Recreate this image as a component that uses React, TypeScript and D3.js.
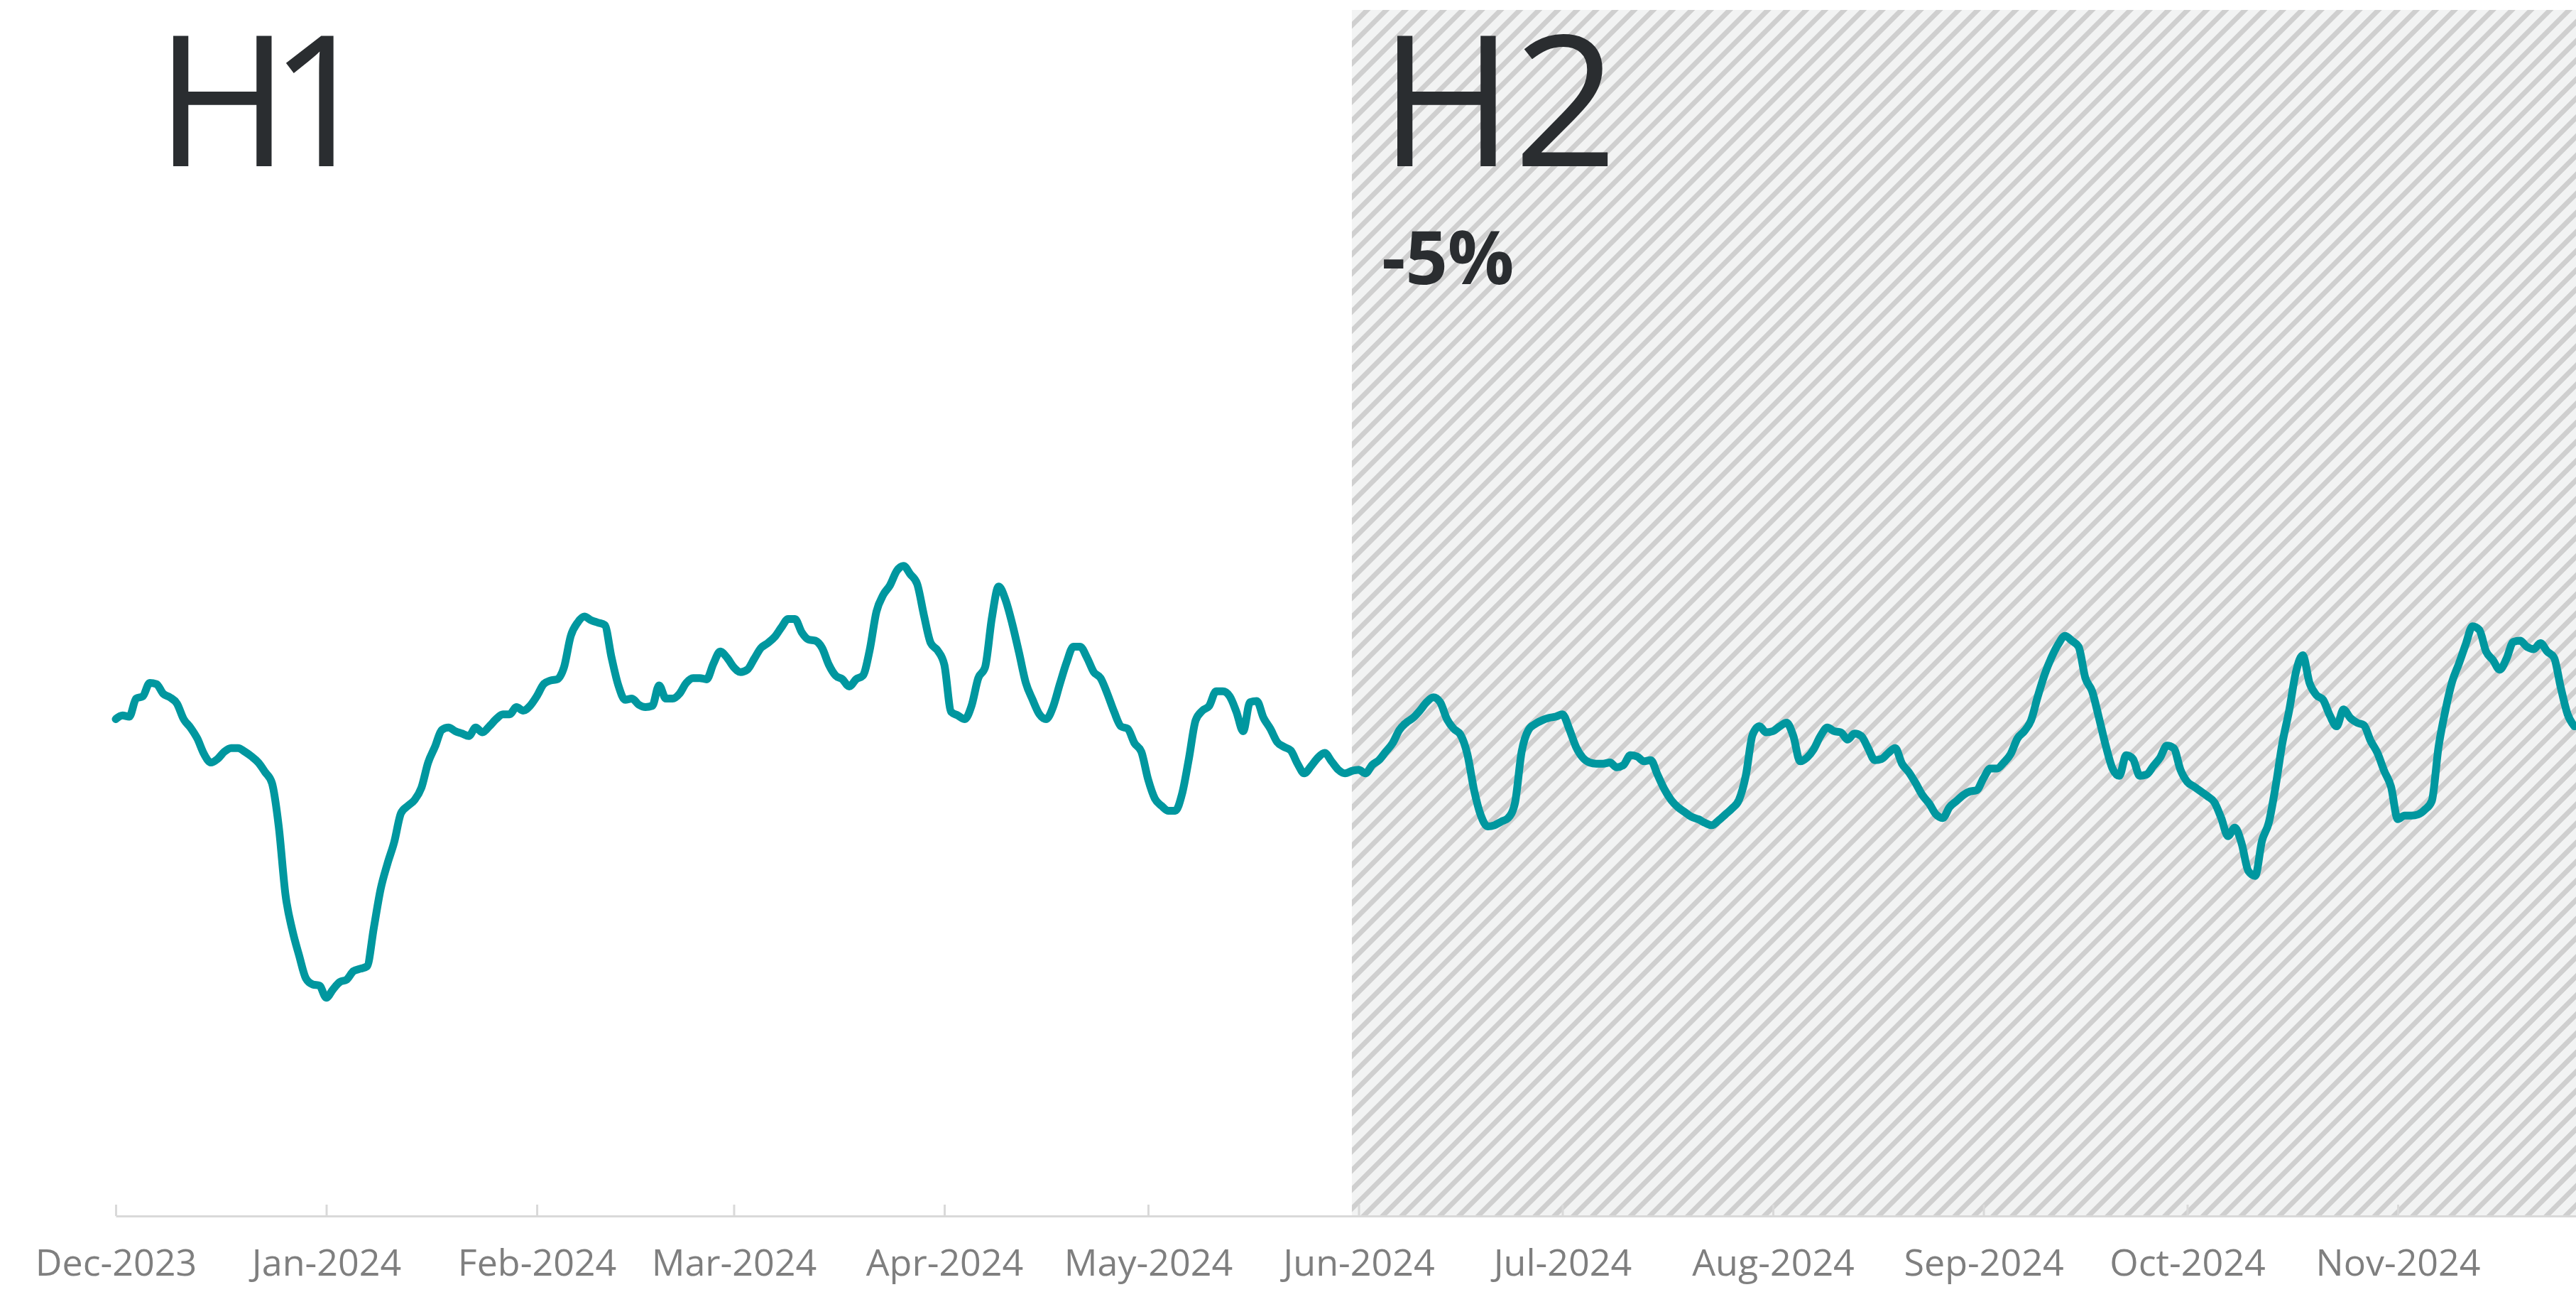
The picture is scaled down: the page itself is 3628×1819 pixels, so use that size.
import React, { useRef, useEffect } from 'react';
import * as d3 from 'd3';

// daily series, first value is 1 Dec 2023 (no y axis on the chart, index units)
const startDate = '2023-12-01';
const values = [
  412, 415, 414, 429, 431, 442, 441, 433, 430, 425, 412, 405, 396, 383, 376, 379,
  385, 388, 388, 385, 381, 376, 368, 359, 323, 266, 237, 216, 197, 192, 191, 181,
  188, 194, 196, 203, 205, 207, 239, 271, 292, 310, 334, 340, 345, 355, 376, 389,
  403, 405, 402, 400, 398, 405, 401, 406, 412, 416, 416, 422, 419, 423, 431, 441,
  444, 445, 455, 481, 492, 497, 494, 492, 490, 463, 440, 428, 429, 424, 422, 423,
  440, 429, 429, 433, 442, 446, 446, 445, 458, 468, 463, 455, 451, 453, 462, 471,
  475, 480, 488, 495, 495, 484, 478, 477, 471, 457, 448, 445, 439, 445, 448, 469,
  501, 515, 523, 535, 539, 532, 524, 498, 475, 469, 457, 418, 415, 412, 423, 446,
  455, 496, 522, 511, 491, 467, 442, 428, 416, 412, 422, 441, 459, 472, 472, 463,
  451, 446, 433, 418, 406, 404, 392, 385, 362, 346, 340, 336, 336, 350, 379, 411,
  419, 423, 435, 435, 431, 418, 402, 426, 427, 413, 404, 393, 389, 386, 375, 367,
  373, 380, 384, 377, 370, 367, 369, 370, 367, 374, 378, 385, 392, 403, 409, 413,
  419, 426, 430, 426, 412, 404, 399, 383, 353, 332, 323, 324, 327, 330, 342, 385,
  403, 408, 411, 413, 414, 416, 404, 389, 380, 376, 375, 375, 376, 372, 374, 382,
  381, 377, 378, 366, 354, 345, 339, 335, 331, 329, 326, 324, 328, 333, 338, 345,
  365, 399, 406, 401, 402, 406, 409, 398, 377, 380, 387, 398, 405, 402, 401, 395,
  400, 398, 388, 378, 379, 384, 388, 375, 368, 359, 349, 342, 333, 330, 339, 344,
  349, 352, 353, 363, 371, 371, 376, 383, 396, 402, 411, 431, 449, 463, 474, 481,
  477, 472, 446, 435, 413, 390, 371, 365, 382, 379, 365, 366, 373, 380, 390, 388,
  370, 360, 356, 352, 348, 343, 330, 315, 322, 309, 286, 282, 311, 326, 356, 392,
  419, 451, 465, 442, 432, 428, 415, 406, 420, 413, 409, 407, 394, 384, 369, 356,
  329, 332, 332, 333, 337, 344, 389, 419, 443, 458, 474, 489, 486, 468, 461, 453,
  462, 476, 477, 472, 470, 475, 468, 463, 438, 416, 406
];

const monthTicks = [
  '2023-12-01', '2024-01-01', '2024-02-01', '2024-03-01', '2024-04-01', '2024-05-01',
  '2024-06-01', '2024-07-01', '2024-08-01', '2024-09-01', '2024-10-01', '2024-11-01'
];

const halfLabels = ['H1', 'H2'];
const h2Start = '2024-05-31';
const h2Change = '-5%';

const WIDTH = 3628;
const HEIGHT = 1819;

const App = () => {
  const svgRef = useRef(null);

  useEffect(() => {
    document.body.style.margin = '0';
    if (!svgRef.current) return;

    const svg = d3.select(svgRef.current);
    svg.selectAll('*').remove();

    const parse = d3.utcParse('%Y-%m-%d');
    const start = parse(startDate);
    const data = values.map((v, i) => ({ date: d3.utcDay.offset(start, i), value: v }));

    const x = d3
      .scaleUtc()
      .domain([parse('2023-12-01'), parse('2024-12-01')])
      .range([163, 3664]);

    const y = d3.scaleLinear().domain([0, 1000]).range([1712, 14]);

    // striped background for the second half
    const defs = svg.append('defs');
    const pattern = defs
      .append('pattern')
      .attr('id', 'hatch')
      .attr('patternUnits', 'userSpaceOnUse')
      .attr('width', 19)
      .attr('height', 19)
      .attr('patternTransform', 'rotate(45)');
    pattern.append('rect').attr('width', 19).attr('height', 19).attr('fill', '#f2f3f3');
    pattern.append('rect').attr('width', 7).attr('height', 19).attr('fill', '#cfcfcf');

    svg
      .append('rect')
      .attr('x', x(parse(h2Start)))
      .attr('y', y(1000))
      .attr('width', WIDTH - x(parse(h2Start)))
      .attr('height', y(0) - y(1000))
      .attr('fill', 'url(#hatch)');

    // x axis, ticks pointing up into the plot
    const xAxis = d3
      .axisBottom(x)
      .tickValues(monthTicks.map(parse))
      .tickFormat(d3.utcFormat('%b-%Y'))
      .tickSizeInner(-16)
      .tickSizeOuter(0);

    const axisG = svg.append('g').attr('transform', `translate(0, ${y(0)})`).call(xAxis);
    axisG.select('.domain').attr('stroke', '#d9d9d9').attr('stroke-width', 3);
    axisG.selectAll('.tick line').attr('stroke', '#d9d9d9').attr('stroke-width', 3);
    axisG
      .selectAll('.tick text')
      .attr('y', 84)
      .attr('dy', 0)
      .attr('fill', '#7f7f7f')
      .attr('font-family', '"Open Sans", sans-serif')
      .attr('font-size', 52);

    const line = d3
      .line()
      .x((d) => x(d.date))
      .y((d) => y(d.value))
      .curve(d3.curveMonotoneX);

    svg
      .append('path')
      .datum(data)
      .attr('d', line)
      .attr('fill', 'none')
      .attr('stroke', '#00979f')
      .attr('stroke-width', 11)
      .attr('stroke-linejoin', 'round')
      .attr('stroke-linecap', 'round');

    // half-year labels
    const labelX = [219, x(parse(h2Start)) + 39];
    svg
      .selectAll('text.half')
      .data(halfLabels)
      .enter()
      .append('text')
      .attr('class', 'half')
      .attr('x', (d, i) => labelX[i])
      .attr('y', 234)
      .attr('font-family', '"Open Sans", sans-serif')
      .attr('font-size', 256)
      .attr('letter-spacing', (d, i) => (i === 0 ? -28 : 0))
      .attr('fill', '#2a2d30')
      .text((d) => d);

    svg
      .append('text')
      .attr('x', x(parse(h2Start)) + 42)
      .attr('y', 400)
      .attr('font-family', '"Open Sans", sans-serif')
      .attr('font-weight', 700)
      .attr('font-size', 104)
      .attr('fill', '#2a2d30')
      .text(h2Change);
  }, []);

  return (
    <svg
      ref={svgRef}
      width={WIDTH}
      height={HEIGHT}
      style={{ display: 'block', position: 'absolute', left: 0, top: 0, background: '#fff' }}
    />
  );
};

export default App;
